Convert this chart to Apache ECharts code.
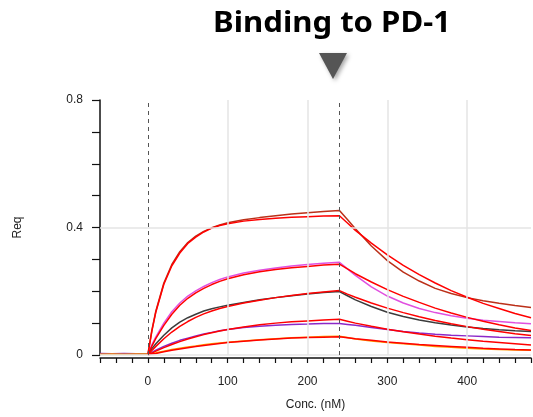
<!DOCTYPE html>
<html>
<head>
<meta charset="utf-8">
<script src="https://cdn.jsdelivr.net/npm/echarts@6/dist/echarts.min.js"></script>
<style>
html,body{margin:0;padding:0;background:#fff;overflow:hidden;}
#chart{width:533px;height:417px;}
</style>
</head>
<body>
<div id="chart"></div>
<script>
// ---- data ----
const titleText = 'Binding to PD-1';
const xAxisName = 'Conc. (nM)';
const yAxisName = 'Req';
const xTickLabels = [0, 100, 200, 300, 400];
const yTickLabels = [0, 0.4, 0.8];
const injectionMarks = [0, 240];

const timeData = [-60,-45,-30,-15,0,5,10,20,30,40,50,60,70,80,90,100,120,140,160,180,200,220,240,250,260,280,300,320,340,360,380,400,420,440,460,480];
const timeFit  = [0,5,10,20,30,40,50,60,70,80,90,100,120,140,160,180,200,220,240,250,260,280,300,320,340,360,380,400,420,440,460,480];

// measured curves
const dataTop     = [0.004,0.003,0.004,0.003,0.003,0.078,0.138,0.226,0.284,0.324,0.353,0.373,0.388,0.399,0.408,0.415,0.424,0.431,0.437,0.442,0.446,0.450,0.453,0.425,0.396,0.342,0.296,0.260,0.232,0.209,0.193,0.180,0.170,0.162,0.155,0.149];
const dataMagenta = [0.003,0.004,0.003,0.004,0.003,0.032,0.057,0.100,0.136,0.163,0.185,0.201,0.215,0.227,0.237,0.245,0.257,0.266,0.273,0.279,0.284,0.288,0.291,0.270,0.250,0.214,0.185,0.163,0.146,0.133,0.123,0.115,0.109,0.105,0.101,0.098];
const dataGray    = [0.003,0.003,0.002,0.003,0.003,0.020,0.035,0.062,0.085,0.103,0.117,0.128,0.138,0.145,0.151,0.156,0.165,0.173,0.180,0.186,0.191,0.196,0.199,0.186,0.173,0.152,0.134,0.121,0.110,0.101,0.094,0.088,0.083,0.079,0.076,0.074];
const dataPurple  = [0.005,0.004,0.005,0.004,0.003,0.008,0.015,0.027,0.037,0.046,0.053,0.060,0.066,0.071,0.076,0.080,0.086,0.090,0.093,0.096,0.097,0.099,0.099,0.096,0.093,0.086,0.080,0.074,0.069,0.065,0.062,0.060,0.058,0.056,0.055,0.054];
const dataOrange  = [0.002,0.003,0.002,0.003,0.003,0.005,0.007,0.012,0.017,0.021,0.025,0.028,0.032,0.035,0.038,0.040,0.044,0.048,0.051,0.054,0.056,0.058,0.059,0.055,0.050,0.044,0.039,0.035,0.031,0.027,0.024,0.021,0.019,0.017,0.016,0.015];

// fitted curves
const fitTop     = [0,0.075,0.135,0.222,0.280,0.320,0.350,0.370,0.386,0.398,0.406,0.412,0.420,0.425,0.429,0.432,0.434,0.436,0.437,0.414,0.391,0.351,0.314,0.281,0.252,0.226,0.202,0.181,0.162,0.146,0.130,0.117];
const fitMagenta = [0,0.028,0.052,0.093,0.128,0.156,0.178,0.195,0.209,0.221,0.231,0.239,0.252,0.261,0.268,0.274,0.278,0.282,0.285,0.270,0.255,0.229,0.205,0.184,0.165,0.147,0.132,0.118,0.106,0.095,0.085,0.077];
const fitGray    = [0,0.014,0.027,0.051,0.072,0.090,0.105,0.118,0.129,0.138,0.146,0.152,0.163,0.172,0.180,0.187,0.193,0.198,0.202,0.191,0.181,0.163,0.147,0.133,0.120,0.108,0.098,0.089,0.081,0.074,0.067,0.061];
const fitPurple  = [0,0.006,0.012,0.023,0.033,0.042,0.050,0.057,0.064,0.070,0.075,0.080,0.088,0.095,0.100,0.104,0.107,0.110,0.112,0.106,0.100,0.090,0.081,0.073,0.066,0.059,0.053,0.048,0.043,0.039,0.035,0.031];
const fitOrange  = [0,0.003,0.005,0.010,0.015,0.019,0.023,0.027,0.030,0.033,0.036,0.039,0.043,0.047,0.050,0.053,0.055,0.056,0.057,0.054,0.051,0.046,0.041,0.037,0.033,0.030,0.027,0.024,0.021,0.019,0.017,0.016];

const measured = [
  {name:'c1', values:dataTop, color:'#bb3019'},
  {name:'c2', values:dataMagenta, color:'#e050e0'},
  {name:'c3', values:dataGray, color:'#3c3c3c'},
  {name:'c4', values:dataPurple, color:'#8c28c8'},
  {name:'c5', values:dataOrange, color:'#ff9a00'}
];
const fits = [fitTop, fitMagenta, fitGray, fitPurple, fitOrange];

// ---- chart ----
const chart = echarts.init(document.getElementById('chart'), null, {renderer:'canvas', width:533, height:417});
const FONT = '"Liberation Sans", Arial, sans-serif';

const series = [];
series.push({
  type:'line', data:[], z:1, silent:true,
  markLine:{
    silent:true, symbol:['none','none'], label:{show:false},
    lineStyle:{color:'#e4e4e4', width:1.5, type:'solid'},
    data: xTickLabels.filter(v=>v!==0).map(v=>({xAxis:v})).concat(yTickLabels.filter(v=>v!==0.8).map(v=>({yAxis:v})))
  }
});
series.push({
  type:'line', data:[], z:2, silent:true,
  markLine:{
    silent:true, symbol:['none','none'], label:{show:false},
    lineStyle:{color:'#555555', width:1, type:[4,4]},
    data: injectionMarks.map(v=>({xAxis:v}))
  }
});
measured.forEach(m=>{
  series.push({
    type:'line', name:m.name, z:3, showSymbol:false, symbol:'none', silent:true,
    lineStyle:{color:m.color, width:1.5},
    data: timeData.map((t,i)=>[t, m.values[i]])
  });
});
fits.forEach(f=>{
  series.push({
    type:'line', z:4, showSymbol:false, symbol:'none', silent:true,
    lineStyle:{color:'#ff0000', width:1.5},
    data: timeFit.map((t,i)=>[t, f[i]])
  });
});

chart.setOption({
  animation:false,
  backgroundColor:'#ffffff',
  grid:{left:100, right:2, top:100, bottom:62, containLabel:false, outerBoundsMode:'none'},
  xAxis:{
    type:'value', min:-60, max:480, interval:20,
    offset:3,
    name:xAxisName, nameLocation:'middle', nameGap:41,
    nameTextStyle:{fontFamily:FONT, fontSize:12, color:'#222'},
    axisLine:{show:true, onZero:false, lineStyle:{color:'#111', width:1.5}},
    axisTick:{show:true, inside:false, length:5, lineStyle:{color:'#111', width:1.2}},
    axisLabel:{
      margin:18, fontFamily:FONT, fontSize:12, color:'#222',
      formatter:v => xTickLabels.indexOf(v) >= 0 ? String(v) : ''
    },
    splitLine:{show:false}
  },
  yAxis:{
    type:'value', min:0, max:0.8, interval:0.1,
    name:yAxisName, nameLocation:'middle', nameGap:76, nameRotate:90,
    nameTextStyle:{fontFamily:FONT, fontSize:12, color:'#222'},
    axisLine:{show:true, onZero:false, lineStyle:{color:'#111', width:1.5}},
    axisTick:{show:true, inside:false, length:8, lineStyle:{color:'#111', width:1.2}},
    axisLabel:{
      margin:17, fontFamily:FONT, fontSize:12, color:'#222',
      formatter:v => {
        const r = Math.round(v*10)/10;
        return yTickLabels.indexOf(r) >= 0 ? String(r) : '';
      }
    },
    splitLine:{show:false}
  },
  graphic:[
    {type:'text', x:332, y:10, scaleX:1.11,
     style:{text:titleText, textAlign:'center', textVerticalAlign:'top', font:'bold 28px "Noto Sans", "Open Sans", sans-serif', fill:'#000'}},
    {type:'polygon', shape:{points:[[319,53],[347,53],[333,79]]},
     style:{fill:'#555555', shadowBlur:4, shadowColor:'rgba(0,0,0,0.35)', shadowOffsetX:2, shadowOffsetY:2}}
  ],
  series:series
});
</script>
</body>
</html>
